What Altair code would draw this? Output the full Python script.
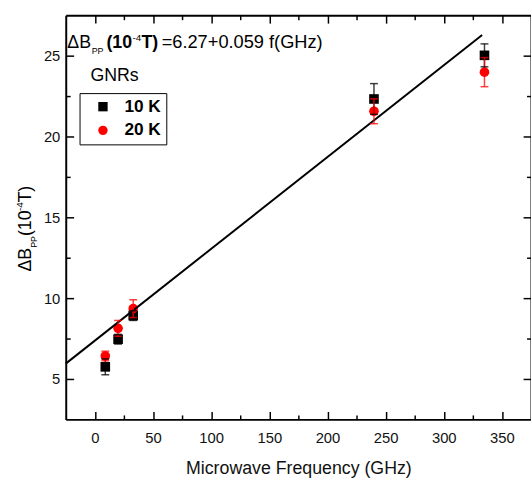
import altair as alt
import pandas as pd

FONT = "Liberation Sans"

# ---------------- data ----------------
freq = [9, 20, 33, 240, 335]
dB_10K = [5.75, 7.46, 8.92, 22.32, 25.02]
err_10K = [0.49, 0.30, 0.30, 0.95, 0.71]
dB_20K = [6.42, 8.13, 9.35, 21.56, 23.98]
err_20K = [0.30, 0.49, 0.55, 0.77, 0.90]
series_names = ["10 K", "20 K"]
series_colors = ["#000000", "#ff0000"]
series_shapes = ["square", "circle"]

fit_freq = [-25, 333]
fit_dB = [5.95, 26.28]

x_major = [0, 50, 100, 150, 200, 250, 300, 350]
x_minor = [25, 75, 125, 175, 225, 275, 325]
y_major = [5, 10, 15, 20, 25]
y_minor = [7.5, 12.5, 17.5, 22.5]
x_domain = [-25, 375]
y_domain = [2.5, 27.5]

rows = []
for name, vals, errs in [(series_names[0], dB_10K, err_10K), (series_names[1], dB_20K, err_20K)]:
    for f, v, e in zip(freq, vals, errs):
        rows.append({"freq": f, "val": v, "lo": v - e, "hi": v + e, "series": name})
df = pd.DataFrame(rows)
fit_df = pd.DataFrame({"fx": fit_freq, "fy": fit_dB})

xs = alt.Scale(domain=x_domain, nice=False, zero=False)
ys = alt.Scale(domain=y_domain, nice=False, zero=False)


def make_axis(orient, values, tick_len, labels=False, domain=True, title=None, **kw):
    args = dict(
        orient=orient, values=values, grid=False, tickSize=alt.ExprRef(f"-{tick_len}"),
        tickColor="black", tickWidth=1.5, domain=domain, domainColor="black", domainWidth=2,
        labels=labels,
    )
    if labels:
        args.update(labelFont=FONT, labelFontSize=15, labelColor="#111111", format="d")
    if title:
        args.update(title=title, titleFont=FONT, titleFontSize=18, titleFontWeight="normal",
                    titleColor="#111111")
    else:
        args.update(title=None)
    args.update(kw)
    return alt.Axis(**args)


legend = alt.Legend(
    title=None, orient="none", legendX=14, legendY=79, strokeColor="black", fillColor="white",
    padding=5, symbolOffset=10, labelFont=FONT, labelFontSize=17.5, labelFontWeight="bold",
    labelColor="black", symbolSize=90, rowPadding=5, labelOffset=13, symbolStrokeWidth=0,
)
color = alt.Color("series:N", scale=alt.Scale(domain=series_names, range=series_colors), legend=legend)
shape = alt.Shape("series:N", scale=alt.Scale(domain=series_names, range=series_shapes), legend=legend)

points = alt.Chart(df).mark_point(filled=True, size=95, opacity=1).encode(
    x=alt.X("freq:Q", scale=xs, axis=make_axis("bottom", x_major, 8, True, True,
                                                  "Microwave Frequency (GHz)",
                                                  labelPadding=19, titlePadding=15)),
    y=alt.Y("val:Q", scale=ys, axis=make_axis("left", y_major, 8, True, True, None,
                                               labelPadding=14)),
    color=color, shape=shape,
)

fit = alt.Chart(fit_df).mark_line(color="black", strokeWidth=2).encode(
    x=alt.X("fx:Q", scale=xs, axis=make_axis("top", x_major, 8)),
    y=alt.Y("fy:Q", scale=ys, axis=make_axis("right", y_major, 8)),
)

ecolor = alt.Color("series:N", scale=alt.Scale(domain=series_names, range=series_colors), legend=None)
bars = alt.Chart(df).mark_rule(strokeWidth=1.5, opacity=0.75).encode(
    x=alt.X("freq:Q", scale=xs, axis=None), y=alt.Y("lo:Q", scale=ys, axis=None), y2="hi:Q", color=ecolor)
cap_lo = alt.Chart(df).mark_tick(orient="horizontal", size=8, thickness=1.5, opacity=0.75).encode(
    x=alt.X("freq:Q", scale=xs, axis=make_axis("bottom", x_minor, 4.5, domain=False)),
    y=alt.Y("lo:Q", scale=ys, axis=make_axis("left", y_minor, 4.5, domain=False)),
    color=ecolor)
cap_hi = alt.Chart(df).mark_tick(orient="horizontal", size=8, thickness=1.5, opacity=0.75).encode(
    x=alt.X("freq:Q", scale=xs, axis=make_axis("top", x_minor, 4.5, domain=False)),
    y=alt.Y("hi:Q", scale=ys, axis=make_axis("right", y_minor, 4.5, domain=False)),
    color=ecolor)


def label(text, x, y, size, weight="normal", angle=0):
    kw = dict(align="left", baseline="alphabetic", font=FONT, fontSize=size, fontWeight=weight,
              color="black")
    if angle:
        kw["angle"] = angle
    return alt.Chart(pd.DataFrame({"t": [text]})).mark_text(**kw).encode(
        text="t:N", x=alt.value(x), y=alt.value(y))


# equation annotation: ΔB_PP (10^-4 T) = 6.27 + 0.059 f(GHz)
eq_text = ["ΔB", "PP", "(10", "-4", "T)", "=6.27+0.059 f(GHz)"]
eq = [
    label(eq_text[0], 1.6, 33, 18),
    label(eq_text[1], 26.3, 39, 9),
    label(eq_text[2], 41.3, 33, 18, "bold"),
    label(eq_text[3], 67.8, 26, 10),
    label(eq_text[4], 76.8, 33, 18, "bold"),
    label(eq_text[5], 97.3, 33, 18.5),
]
gnrs = label("GNRs", 25, 67, 18)

# y-axis title ΔB_PP(10^-4 T), rotated
yt_text = ["ΔB", "PP", "(10", "-4", "T)"]
ytitle = [
    label(yt_text[0], -35, 260, 18, angle=270),
    label(yt_text[1], -29.5, 236, 9, angle=270),
    label(yt_text[2], -35, 224, 18, angle=270),
    label(yt_text[3], -43, 198.5, 10, angle=270),
    label(yt_text[4], -35, 190, 18, angle=270),
]

chart = alt.layer(points, fit, bars, cap_lo, cap_hi, *eq, gnrs, *ytitle).resolve_axis(
    x="independent", y="independent"
).properties(
    width=472, height=410,
    autosize=alt.AutoSizeParams(type="none"),
    padding={"left": 66.7, "top": 12, "right": 0, "bottom": 56},
).configure_view(stroke=None)

chart.save("out.html", embed_options={"renderer": "svg", "actions": False})
